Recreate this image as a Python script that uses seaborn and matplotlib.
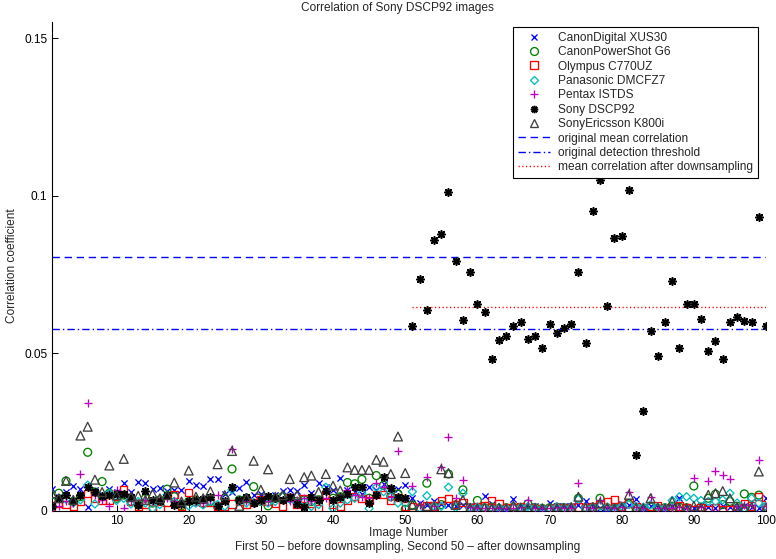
import matplotlib
matplotlib.use("Agg")
import matplotlib.pyplot as plt
import numpy as np
import pandas as pd
import seaborn as sns
from matplotlib.lines import Line2D

sns.set_theme(style="white")
plt.rcParams["font.family"] = ["Liberation Sans", "DejaVu Sans"]

# ---------------- data ----------------
image_number = list(range(1, 101))

canon_digital = [
    0.0070, 0.0045, 0.0060, 0.0079, 0.0070, 0.0012, 0.0066, 0.0050, 0.0070, 0.0060,
    0.0088, 0.0059, 0.0093, 0.0088, 0.0070, 0.0072, 0.0062, 0.0067, 0.0066, 0.0095,
    0.0082, 0.0079, 0.0101, 0.0101, 0.0054, 0.0060, 0.0073, 0.0093, 0.0050, 0.0054,
    0.0045, 0.0049, 0.0064, 0.0067, 0.0064, 0.0082, 0.0056, 0.0090, 0.0075, 0.0067,
    0.0104, 0.0067, 0.0060, 0.0055, 0.0077, 0.0065, 0.0086, 0.0063, 0.0070, 0.0082,
    0.0040, 0.0025, 0.0020, 0.0030, 0.0022, 0.0018, 0.0015, 0.0020, 0.0014, 0.0012,
    0.0048, 0.0022, 0.0010, 0.0003, 0.0037, 0.0016, 0.0012, 0.0014, 0.0008, 0.0024,
    0.0016, 0.0016, 0.0016, 0.0020, 0.0030, 0.0015, 0.0008, 0.0005, 0.0012, 0.0022,
    0.0018, 0.0037, 0.0010, 0.0016, 0.0012, 0.0008, 0.0015, 0.0040, 0.0012, 0.0010,
    0.0019, 0.0012, 0.0010, 0.0015, 0.0012, 0.0010, 0.0014, 0.0012, 0.0008, 0.0040,
]

canon_powershot = [
    0.0030, 0.0056, 0.0095, 0.0030, 0.0045, 0.0186, 0.0060, 0.0093, 0.0056, 0.0040,
    0.0050, 0.0030, 0.0020, 0.0040, 0.0025, 0.0035, 0.0069, 0.0045, 0.0016, 0.0030,
    0.0035, 0.0024, 0.0030, 0.0014, 0.0040, 0.0133, 0.0035, 0.0040, 0.0077, 0.0030,
    0.0016, 0.0040, 0.0045, 0.0040, 0.0030, 0.0035, 0.0030, 0.0035, 0.0050, 0.0040,
    0.0045, 0.0090, 0.0086, 0.0100, 0.0040, 0.0112, 0.0081, 0.0045, 0.0054, 0.0005,
    0.0019, 0.0010, 0.0088, 0.0015, 0.0020, 0.0117, 0.0019, 0.0067, 0.0010, 0.0033,
    0.0010, 0.0012, 0.0008, 0.0010, 0.0012, 0.0010, 0.0022, 0.0010, 0.0008, 0.0010,
    0.0012, 0.0010, 0.0010, 0.0040, 0.0010, 0.0012, 0.0040, 0.0010, 0.0008, 0.0012,
    0.0022, 0.0010, 0.0008, 0.0012, 0.0008, 0.0010, 0.0015, 0.0012, 0.0010, 0.0079,
    0.0012, 0.0040, 0.0053, 0.0020, 0.0030, 0.0015, 0.0054, 0.0043, 0.0050, 0.0012,
]

olympus = [
    0.0016, 0.0025, 0.0020, 0.0014, 0.0030, 0.0055, 0.0040, 0.0035, 0.0033, 0.0045,
    0.0067, 0.0030, 0.0016, 0.0020, 0.0008, 0.0008, 0.0026, 0.0051, 0.0014, 0.0058,
    0.0030, 0.0026, 0.0026, 0.0016, 0.0016, 0.0022, 0.0030, 0.0022, 0.0026, 0.0035,
    0.0030, 0.0025, 0.0014, 0.0043, 0.0022, 0.0040, 0.0025, 0.0008, 0.0048, 0.0022,
    0.0016, 0.0035, 0.0045, 0.0040, 0.0032, 0.0051, 0.0051, 0.0035, 0.0043, 0.0016,
    0.0012, 0.0010, 0.0016, 0.0016, 0.0033, 0.0040, 0.0020, 0.0026, 0.0010, 0.0012,
    0.0015, 0.0033, 0.0022, 0.0010, 0.0010, 0.0012, 0.0010, 0.0008, 0.0004, 0.0008,
    0.0010, 0.0008, 0.0010, 0.0012, 0.0010, 0.0012, 0.0020, 0.0030, 0.0037, 0.0015,
    0.0025, 0.0012, 0.0010, 0.0015, 0.0016, 0.0008, 0.0012, 0.0016, 0.0010, 0.0005,
    0.0010, 0.0004, 0.0010, 0.0005, 0.0005, 0.0010, 0.0024, 0.0016, 0.0045, 0.0019,
]

panasonic = [
    0.0008, 0.0040, 0.0037, 0.0025, 0.0035, 0.0082, 0.0022, 0.0045, 0.0056, 0.0033,
    0.0040, 0.0022, 0.0030, 0.0025, 0.0008, 0.0020, 0.0051, 0.0030, 0.0024, 0.0016,
    0.0025, 0.0019, 0.0030, 0.0020, 0.0015, 0.0067, 0.0030, 0.0025, 0.0026, 0.0030,
    0.0025, 0.0030, 0.0045, 0.0037, 0.0025, 0.0030, 0.0014, 0.0020, 0.0075, 0.0008,
    0.0025, 0.0035, 0.0040, 0.0056, 0.0008, 0.0075, 0.0061, 0.0045, 0.0025, 0.0024,
    0.0061, 0.0008, 0.0048, 0.0015, 0.0014, 0.0075, 0.0010, 0.0056, 0.0010, 0.0012,
    0.0010, 0.0008, 0.0010, 0.0008, 0.0010, 0.0012, 0.0014, 0.0010, 0.0008, 0.0010,
    0.0012, 0.0010, 0.0012, 0.0037, 0.0010, 0.0012, 0.0015, 0.0012, 0.0008, 0.0015,
    0.0020, 0.0014, 0.0012, 0.0019, 0.0012, 0.0010, 0.0033, 0.0045, 0.0045, 0.0040,
    0.0033, 0.0030, 0.0030, 0.0035, 0.0056, 0.0025, 0.0008, 0.0040, 0.0025, 0.0015,
]

pentax = [
    0.0010, 0.0016, 0.0030, 0.0025, 0.0116, 0.0341, 0.0050, 0.0035, 0.0014, 0.0067,
    0.0008, 0.0030, 0.0025, 0.0035, 0.0030, 0.0040, 0.0040, 0.0030, 0.0025, 0.0035,
    0.0030, 0.0025, 0.0035, 0.0051, 0.0030, 0.0197, 0.0035, 0.0030, 0.0025, 0.0035,
    0.0030, 0.0040, 0.0035, 0.0030, 0.0035, 0.0040, 0.0030, 0.0035, 0.0040, 0.0035,
    0.0045, 0.0065, 0.0050, 0.0045, 0.0040, 0.0088, 0.0075, 0.0045, 0.0190, 0.0040,
    0.0079, 0.0020, 0.0107, 0.0015, 0.0138, 0.0236, 0.0040, 0.0098, 0.0012, 0.0010,
    0.0010, 0.0008, 0.0010, 0.0008, 0.0010, 0.0012, 0.0033, 0.0010, 0.0008, 0.0010,
    0.0012, 0.0010, 0.0010, 0.0090, 0.0012, 0.0010, 0.0033, 0.0012, 0.0010, 0.0012,
    0.0061, 0.0012, 0.0010, 0.0043, 0.0010, 0.0008, 0.0010, 0.0012, 0.0010, 0.0104,
    0.0012, 0.0095, 0.0127, 0.0114, 0.0101, 0.0015, 0.0020, 0.0020, 0.0162, 0.0015,
]

sony = [
    0.0016, 0.0040, 0.0051, 0.0030, 0.0051, 0.0075, 0.0061, 0.0048, 0.0050, 0.0054,
    0.0054, 0.0043, 0.0019, 0.0064, 0.0033, 0.0030, 0.0051, 0.0019, 0.0022, 0.0030,
    0.0033, 0.0037, 0.0043, 0.0016, 0.0030, 0.0077, 0.0035, 0.0043, 0.0024, 0.0035,
    0.0048, 0.0040, 0.0035, 0.0043, 0.0022, 0.0012, 0.0043, 0.0035, 0.0064, 0.0033,
    0.0045, 0.0054, 0.0075, 0.0075, 0.0026, 0.0050, 0.0107, 0.0072, 0.0045, 0.0040,
    0.0588, 0.0737, 0.0637, 0.0859, 0.0879, 0.1013, 0.0793, 0.0606, 0.0757, 0.0656,
    0.0632, 0.0481, 0.0541, 0.0556, 0.0585, 0.0600, 0.0546, 0.0554, 0.0518, 0.0592,
    0.0563, 0.0581, 0.0592, 0.0758, 0.0534, 0.0951, 0.1050, 0.0650, 0.0867, 0.0873,
    0.1018, 0.0178, 0.0318, 0.0572, 0.0492, 0.0598, 0.0730, 0.0516, 0.0655, 0.0655,
    0.0610, 0.0508, 0.0540, 0.0481, 0.0598, 0.0616, 0.0603, 0.0598, 0.0933, 0.0588,
]

sony_ericsson = [
    0.0056, 0.0040, 0.0095, 0.0035, 0.0239, 0.0267, 0.0099, 0.0060, 0.0144, 0.0050,
    0.0165, 0.0045, 0.0048, 0.0035, 0.0054, 0.0040, 0.0050, 0.0090, 0.0030, 0.0128,
    0.0045, 0.0040, 0.0062, 0.0148, 0.0050, 0.0190, 0.0016, 0.0040, 0.0159, 0.0067,
    0.0132, 0.0045, 0.0050, 0.0101, 0.0050, 0.0107, 0.0112, 0.0060, 0.0117, 0.0080,
    0.0065, 0.0138, 0.0130, 0.0130, 0.0130, 0.0162, 0.0156, 0.0117, 0.0236, 0.0120,
    0.0019, 0.0010, 0.0015, 0.0012, 0.0132, 0.0120, 0.0019, 0.0035, 0.0010, 0.0008,
    0.0010, 0.0008, 0.0010, 0.0008, 0.0016, 0.0010, 0.0008, 0.0010, 0.0008, 0.0010,
    0.0008, 0.0010, 0.0012, 0.0045, 0.0010, 0.0012, 0.0025, 0.0010, 0.0008, 0.0012,
    0.0051, 0.0010, 0.0008, 0.0040, 0.0010, 0.0008, 0.0030, 0.0010, 0.0008, 0.0016,
    0.0010, 0.0051, 0.0056, 0.0063, 0.0040, 0.0012, 0.0010, 0.0012, 0.0125, 0.0010,
]

series_names = [
    "CanonDigital XUS30", "CanonPowerShot G6", "Olympus C770UZ",
    "Panasonic DMCFZ7", "Pentax ISTDS", "Sony DSCP92", "SonyEricsson K800i",
]
series_values = [canon_digital, canon_powershot, olympus, panasonic,
                 pentax, sony, sony_ericsson]

original_mean_corr = 0.0806
original_threshold = 0.0577
downsample_start = 51
line_labels = ["original mean correlation", "original detection threshold",
               "mean correlation after downsampling"]

y_ticks = [0, 0.05, 0.1, 0.15]
y_tick_labels = ["0", "0.05", "0.1", "0.15"]
x_ticks = [10, 20, 30, 40, 50, 60, 70, 80, 90, 100]

# ---------------- styling ----------------
styles = {
    "CanonDigital XUS30": dict(marker="x", color=(0, 0, 1), s=20, hollow=False),
    "CanonPowerShot G6": dict(marker="o", color=(0, 0.5, 0), s=32, hollow=True),
    "Olympus C770UZ": dict(marker="s", color=(1, 0, 0), s=28, hollow=True),
    "Panasonic DMCFZ7": dict(marker="D", color=(0, 0.75, 0.75), s=17, hollow=True),
    "Pentax ISTDS": dict(marker="+", color=(0.75, 0, 0.75), s=32, hollow=False),
    "Sony DSCP92": dict(marker=(8, 2, 0), color=(0, 0, 0), s=28, hollow=False),
    "SonyEricsson K800i": dict(marker="^", color=(0.25, 0.25, 0.25), s=40, hollow=True),
}

W, H = 776, 559
fig = plt.figure(figsize=(W / 100, H / 100), dpi=100)
ax_l, ax_r, ax_t, ax_b = 51.6, 766, 22.3, 510.9
ax = fig.add_axes([ax_l / W, 1 - ax_b / H, (ax_r - ax_l) / W, (ax_b - ax_t) / H])

for name, vals in zip(series_names, series_values):
    st = styles[name]
    df = pd.DataFrame({"image": image_number, "corr": vals})
    lw = 1.2 if name == "Sony DSCP92" else 0.95
    kws = dict(marker=st["marker"], s=st["s"], linewidth=lw, zorder=3)
    if st["hollow"]:
        kws.update(color=st["color"], facecolor="none", edgecolor=st["color"])
    else:
        kws.update(color=st["color"])
    sns.scatterplot(data=df, x="image", y="corr", ax=ax, legend=False, **kws)

# horizontal reference lines
dash = (0, (5.3, 3.4))
dashdot = (0, (5.3, 2.2, 1.0, 2.2))
dotted = (0, (0.9, 1.8))
mean_after = float(np.mean(sony[downsample_start - 1:]))

sns.lineplot(x=[image_number[0], image_number[-1]], y=[original_mean_corr] * 2,
             ax=ax, color=(0, 0, 1), linestyle=dash, linewidth=1.0, zorder=2)
sns.lineplot(x=[image_number[0], image_number[-1]], y=[original_threshold] * 2,
             ax=ax, color=(0, 0, 1), linestyle=dashdot, linewidth=1.0, zorder=2)
sns.lineplot(x=[downsample_start, image_number[-1]], y=[mean_after] * 2,
             ax=ax, color=(1, 0, 0), linestyle=dotted, linewidth=1.0, zorder=2)

ax.set_xlim(1, 100)
ax.set_ylim(0, 0.155)
ax.set_xticks(x_ticks)
ax.set_xticklabels([str(t) for t in x_ticks])
ax.set_yticks(y_ticks)
ax.set_yticklabels(y_tick_labels)
ax.set_xlabel("")
ax.set_ylabel("")
for side in ["top", "right"]:
    ax.spines[side].set_visible(False)
for side in ["left", "bottom"]:
    ax.spines[side].set_color("black")
    ax.spines[side].set_linewidth(0.8)
ax.tick_params(direction="in", length=4.5, width=0.7, colors="black",
               labelsize=8.6, pad=3, bottom=True, left=True)
ax.grid(False)

fs = 8.6
fig.text(397 / W, 1 - 8 / H, "Correlation of Sony DSCP92 images",
         ha="center", va="center", fontsize=fs)
fig.text(408 / W, 1 - 533 / H, "Image Number", ha="center", va="center", fontsize=fs)
fig.text(408 / W, 1 - 547 / H,
         "First 50 \u2013 before downsampling, Second 50 \u2013 after downsampling",
         ha="center", va="center", fontsize=fs)
fig.text(12 / W, 1 - 266 / H, "Correlation coefficient", ha="center", va="center",
         rotation=90, fontsize=fs)

# legend
handles = []
for name in series_names:
    st = styles[name]
    ms = np.sqrt(st["s"])
    mew = 1.2 if name == "Sony DSCP92" else 0.95
    if st["hollow"]:
        h = Line2D([], [], linestyle="none", marker=st["marker"], markersize=ms,
                   markerfacecolor="none", markeredgecolor=st["color"], markeredgewidth=mew)
    else:
        h = Line2D([], [], linestyle="none", marker=st["marker"], markersize=ms,
                   color=st["color"], markeredgewidth=mew)
    handles.append(h)
handles.append(Line2D([], [], color=(0, 0, 1), linestyle=dash, linewidth=1.0))
handles.append(Line2D([], [], color=(0, 0, 1), linestyle=dashdot, linewidth=1.0))
handles.append(Line2D([], [], color=(1, 0, 0), linestyle=dotted, linewidth=1.0))
labels = series_names + line_labels

leg = ax.legend(handles, labels, loc="upper right",
                bbox_to_anchor=(758 / W, 1 - 27 / H), bbox_transform=fig.transFigure,
                borderaxespad=0, fontsize=fs, frameon=True, fancybox=False,
                framealpha=1, edgecolor="black", handlelength=2.75,
                handletextpad=0.65, labelspacing=0.2, borderpad=0.4, numpoints=1)
leg.get_frame().set_linewidth(0.8)

fig.savefig("out.png", dpi=100)
